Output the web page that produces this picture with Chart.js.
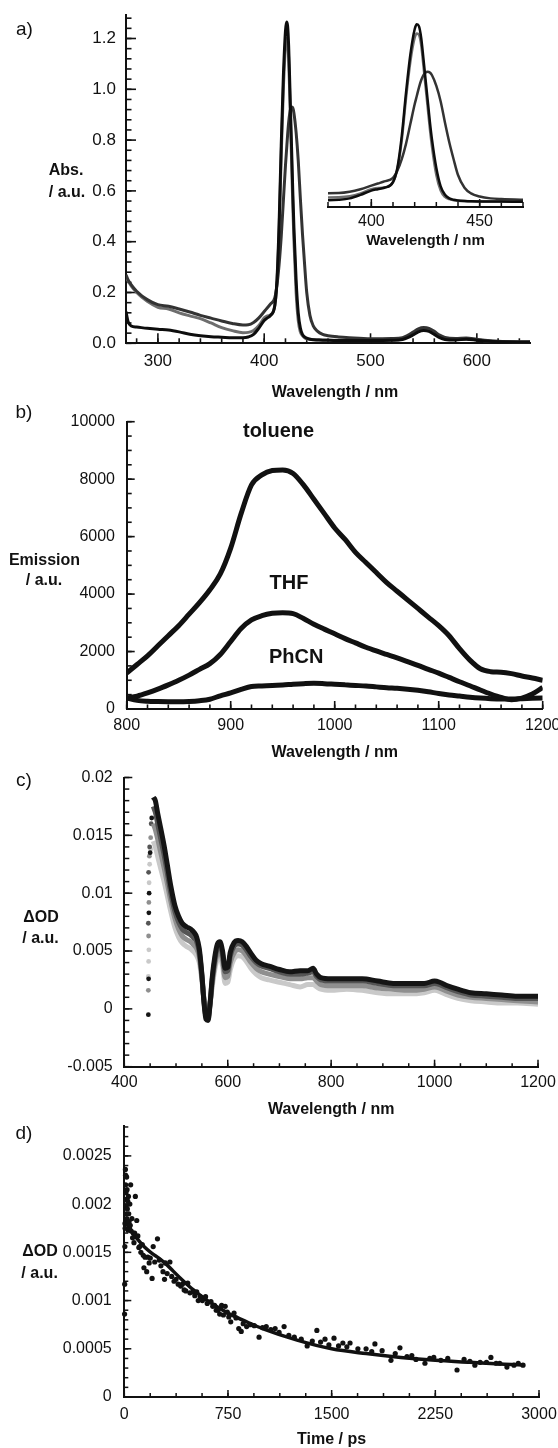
<!DOCTYPE html>
<html><head><meta charset="utf-8">
<script src="https://cdn.jsdelivr.net/npm/chart.js@4.4.1/dist/chart.umd.min.js"></script>
<style>
html,body{margin:0;padding:0;background:#fff;}
body{width:558px;height:1448px;position:relative;overflow:hidden;}
canvas{position:absolute;left:0;}
</style></head><body>
<canvas id="ca" width="558" height="410" style="top:0px"></canvas>
<canvas id="ci" width="558" height="250" style="top:0px"></canvas>
<canvas id="cb" width="558" height="375" style="top:395px"></canvas>
<canvas id="cc" width="558" height="350" style="top:770px"></canvas>
<canvas id="cd" width="558" height="332" style="top:1116px"></canvas>
<script>
// ---------------- Panel a: absorption (main + inset) ----------------
const aWl = [270,272,275,280,290,300,310,320,330,340,350,360,370,380,385,390,395,400,403,406,410,412,414,416,418,420,421,422,423,424,425,426,427,428,430,432,434,436,438,440,443,446,450,455,460,470,480,500,520,530,535,540,545,550,555,560,565,570,580,590,600,610,620,650];
const aBlack = [0.125,0.085,0.068,0.064,0.059, 0.055,0.052,0.045,0.036,0.030, 0.026,0.024,0.022,0.022,0.025, 0.035,0.060,0.090,0.100,0.110, 0.15,0.25,0.47,0.78,1.05, 1.23,1.265,1.25,1.17,1.03, 0.88,0.73,0.58,0.45,0.25, 0.12,0.06,0.035,0.025,0.020, 0.016,0.014,0.013,0.012,0.012, 0.011,0.011,0.011,0.012,0.015, 0.022,0.033,0.045,0.050,0.047, 0.035,0.022,0.015,0.013,0.016, 0.012,0.008,0.006,0.004];
const aGrey = [0.26,0.245,0.225,0.20,0.165, 0.142,0.135,0.120,0.108,0.097, 0.080,0.062,0.050,0.042,0.043, 0.050,0.070,0.100,0.108,0.112, 0.15,0.24,0.44,0.74,1.00, 1.17,1.20,1.19,1.12,0.98, 0.83,0.68,0.53,0.40,0.20, 0.09,0.045,0.030,0.022,0.018, 0.016,0.015,0.014,0.013,0.013, 0.012,0.012,0.012,0.013,0.017, 0.025,0.037,0.050,0.055,0.052, 0.040,0.026,0.018,0.015,0.017, 0.013,0.009,0.007,0.005];
const aDark = [0.27,0.25,0.23,0.205,0.172, 0.152,0.146,0.135,0.123,0.110, 0.099,0.088,0.078,0.072,0.073, 0.082,0.100,0.125,0.140,0.155, 0.18,0.23,0.31,0.42,0.56, 0.70,0.76,0.82,0.87,0.905, 0.925,0.93,0.925,0.905,0.83, 0.72,0.57,0.43,0.31,0.20, 0.11,0.07,0.048,0.035,0.030, 0.025,0.022,0.018,0.019,0.022, 0.031,0.044,0.057,0.062,0.059, 0.047,0.032,0.023,0.019,0.021, 0.016,0.011,0.008,0.006];
const aXTicks = [300,400,500,600];
const aXLabels = ['300','400','500','600'];
const aYTicks = [0,0.2,0.4,0.6,0.8,1.0,1.2];
const aYLabels = ['0.0','0.2','0.4','0.6','0.8','1.0','1.2'];
const insetXTicks = [400,450];
const insetXLabels = ['400','450'];

// ---------------- Panel b: emission ----------------
const bWl = [800,810,820,830,840,850,860,870,880,890,900,910,920,930,940,950,960,970,980,990,1000,1010,1020,1030,1040,1050,1060,1070,1080,1090,1100,1110,1120,1130,1140,1150,1160,1170,1180,1190,1200];
const bToluene = [1250,1550,1850,2200,2550,2900,3300,3700,4150,4700,5600,6800,7800,8150,8300,8320,8200,7800,7300,6800,6300,5900,5450,5100,4750,4400,4100,3800,3500,3200,2900,2550,2100,1700,1400,1300,1280,1230,1150,1080,1000];
const bTHF = [380,450,560,690,840,1000,1180,1380,1580,1900,2350,2800,3100,3250,3330,3350,3320,3150,2950,2780,2620,2450,2300,2150,2020,1900,1780,1650,1520,1380,1250,1100,950,810,660,520,400,320,380,520,750];
const bPhCN = [380,300,270,260,255,255,265,290,340,460,560,680,780,800,820,835,860,880,893,880,860,840,820,800,770,740,720,690,650,600,540,490,450,410,380,360,350,350,360,370,380];
const bNames = ['toluene','THF','PhCN'];
const bXTicks = [800,900,1000,1100,1200];
const bXLabels = ['800','900','1000','1100','1200'];
const bYTicks = [0,2000,4000,6000,8000,10000];
const bYLabels = ['0','2000','4000','6000','8000','10000'];

// ---------------- Panel c: transient absorption spectra ----------------
const cWl = [456,460,465,470,477,483,490,498,505,512,520,528,535,540,545,550,554,558,562,566,570,575,580,585,590,595,600,605,612,620,628,636,645,655,665,680,700,720,740,755,765,772,780,800,830,860,890,920,950,980,1000,1010,1025,1045,1070,1100,1130,1160,1200];
const c1 = [0.0183,0.0180,0.0168,0.0157,0.0141, 0.0125,0.0106,0.0089,0.0080,0.0074, 0.0071,0.0069,0.0066,0.0062,0.0052, 0.0030,0.0006,-0.0009,-0.0010,0.0005, 0.0027,0.0045,0.0056,0.0058,0.0050, 0.0035,0.0036,0.0049,0.0057,0.0059, 0.0058,0.0054,0.0048,0.0042,0.0039, 0.0037,0.0034,0.0032,0.0033,0.0033, 0.0035,0.0030,0.0027,0.0026,0.0026, 0.0026,0.0024,0.0022,0.0022,0.0022, 0.0024,0.0023,0.0020,0.0017,0.0014, 0.0013,0.0012,0.0011,0.0011];
const c2 = [0.0175,0.0170,0.0159,0.0148,0.0133, 0.0118,0.0100,0.0084,0.0075,0.0069, 0.0066,0.0064,0.0061,0.0058,0.0049, 0.0029,0.0007,-0.0007,-0.0008,0.0005, 0.0025,0.0042,0.0053,0.0055,0.0047, 0.0032,0.0033,0.0046,0.0054,0.0056, 0.0055,0.0051,0.0045,0.0040,0.0037, 0.0035,0.0032,0.0030,0.0030,0.0031, 0.0032,0.0028,0.0025,0.0024,0.0024, 0.0024,0.0022,0.0020,0.0020,0.0020, 0.0022,0.0021,0.0018,0.0015,0.0012, 0.0011,0.0010,0.0009,0.0009];
const c3 = [0.0160,0.0155,0.0146,0.0136,0.0122, 0.0109,0.0093,0.0078,0.0069,0.0063, 0.0060,0.0058,0.0055,0.0052,0.0045, 0.0027,0.0008,-0.0004,-0.0005,0.0005, 0.0022,0.0038,0.0048,0.0050,0.0042, 0.0027,0.0028,0.0040,0.0048,0.0051, 0.0050,0.0046,0.0040,0.0035,0.0032, 0.0030,0.0028,0.0026,0.0026,0.0027, 0.0027,0.0024,0.0021,0.0020,0.0020, 0.0020,0.0018,0.0017,0.0016,0.0017, 0.0019,0.0018,0.0015,0.0012,0.0010, 0.0009,0.0008,0.0007,0.0006];
const c4 = [0.0145,0.0140,0.0131,0.0122,0.0110, 0.0098,0.0084,0.0070,0.0062,0.0057, 0.0054,0.0052,0.0049,0.0046,0.0040, 0.0025,0.0009,-0.0001,-0.0002,0.0005, 0.0019,0.0034,0.0043,0.0045,0.0037, 0.0022,0.0023,0.0034,0.0043,0.0046, 0.0045,0.0041,0.0035,0.0030,0.0027, 0.0025,0.0023,0.0021,0.0019,0.0021, 0.0021,0.0019,0.0017,0.0016,0.0017, 0.0016,0.0014,0.0013,0.0013,0.0014, 0.0016,0.0015,0.0012,0.0009,0.0007, 0.0006,0.0005,0.0005,0.0004];
const cEdge1 = [[446.5,-0.0005],[447,0.0026],[447.5,0.0083],[448,0.0100],[450,0.0135],[453,0.0165]];
const cEdge2 = [[446.5,0.0074],[447,0.0118],[449,0.0140],[452,0.0160]];
const cEdge3 = [[446.5,0.0016],[447,0.0063],[447.5,0.0092],[448.5,0.0132],[451,0.0148]];
const cEdge4 = [[446.5,0.0028],[447,0.0041],[447.5,0.0051],[448,0.0109],[449,0.0125],[451,0.0138]];
const cXTicks = [400,600,800,1000,1200];
const cXLabels = ['400','600','800','1000','1200'];
const cYTicks = [-0.005,0,0.005,0.01,0.015,0.02];
const cYLabels = ['-0.005','0','0.005','0.01','0.015','0.02'];

// ---------------- Panel d: kinetic trace ----------------
const dPoints = [[2,0.00086],[3,0.00117],[4,0.00156],[5,0.0018],[6,0.00175],[8,0.00236],[9,0.0023],[10,0.0022],[12,0.00212],[13,0.00205],[14,0.00198],[15,0.0019],[17,0.00228],[18,0.00185],[20,0.00215],[22,0.00195],[24,0.0018],[25,0.00203],[27,0.00173],[30,0.00208],[32,0.0019],[35,0.00182],[38,0.00175],[40,0.002],[43,0.00178],[46,0.0022],[50,0.00172],[55,0.00185],[60,0.00165],[65,0.0017],[70,0.0016],[75,0.0017],[80,0.00208],[90,0.00183],[98,0.00167],[105,0.00155],[111,0.00156],[120,0.0015],[130,0.00158],[137,0.00147],[142,0.00134],[150,0.00145],[162,0.0013],[170,0.00145],[180,0.00139],[188,0.00144],[201,0.00123],[209,0.00156],[220,0.0014],[240,0.00164],[253,0.00142],[265,0.00136],[280,0.0013],[291,0.00122],[297,0.00139],[310,0.00128],[330,0.0014],[343,0.00125],[360,0.0012],[374,0.00122],[390,0.00117],[408,0.00115],[420,0.00117],[433,0.00111],[445,0.0011],[459,0.00118],[475,0.00108],[498,0.00109],[510,0.00105],[524,0.00109],[535,0.001],[549,0.00104],[565,0.001],[588,0.00104],[600,0.00097],[627,0.00099],[640,0.00094],[653,0.00095],[665,0.0009],[678,0.0009],[690,0.00086],[704,0.00095],[717,0.00085],[730,0.00094],[745,0.00088],[756,0.00083],[770,0.00078],[794,0.00087],[808,0.00082],[828,0.00071],[846,0.00068],[860,0.00076],[885,0.00073],[911,0.00075],[940,0.00074],[975,0.00062],[1000,0.00072],[1027,0.00073],[1060,0.0007],[1091,0.00071],[1120,0.00067],[1156,0.00073],[1190,0.00064],[1230,0.00062],[1280,0.0006],[1323,0.00053],[1360,0.00058],[1393,0.00069],[1420,0.00057],[1452,0.0006],[1480,0.00054],[1517,0.00061],[1550,0.00053],[1581,0.00056],[1610,0.00052],[1633,0.00056],[1690,0.0005],[1749,0.0005],[1790,0.00047],[1813,0.00055],[1865,0.00048],[1929,0.00038],[1960,0.00045],[1994,0.00051],[2045,0.00042],[2080,0.00043],[2110,0.00039],[2175,0.00035],[2210,0.0004],[2239,0.00041],[2290,0.00038],[2340,0.0004],[2407,0.00028],[2458,0.00039],[2500,0.00037],[2536,0.00033],[2574,0.00036],[2620,0.00036],[2652,0.00041],[2690,0.00035],[2716,0.00035],[2768,0.00031],[2819,0.00033],[2850,0.00035],[2884,0.00033]];
const dFitT = [0,50,100,150,200,250,300,400,500,600,750,900,1000,1250,1500,1750,2000,2250,2500,2750,2900];
const dFitV = [0.00185,0.00172,0.00163,0.00155,0.00149,0.00144,0.00138,0.00124,0.00111,0.00100,0.00087,0.00077,0.00071,0.00059,0.00050,0.00045,0.00041,0.00038,0.00036,0.00034,0.00033];
const dXTicks = [0,750,1500,2250,3000];
const dXLabels = ['0','750','1500','2250','3000'];
const dYTicks = [0,0.0005,0.001,0.0015,0.002,0.0025];
const dYLabels = ['0','0.0005','0.001','0.0015','0.002','0.0025'];

// ---------------- helpers ----------------
const FF = "'Liberation Sans', Arial, Helvetica, sans-serif";
Chart.defaults.font.family = FF;
Chart.defaults.color = '#111';

function tickPlugin(cfg) {
  return {
    id: 'inTicks',
    beforeDatasetsDraw(chart) {
      const ctx = chart.ctx, a = chart.chartArea;
      ctx.save();
      ctx.strokeStyle = '#111';
      ctx.lineWidth = cfg.width;
      cfg.axes.forEach(ax => {
        const sc = chart.scales[ax.id];
        const mark = (v, len) => {
          const p = sc.getPixelForValue(v);
          ctx.beginPath();
          if (sc.isHorizontal()) { ctx.moveTo(p, a.bottom); ctx.lineTo(p, a.bottom - len); }
          else { ctx.moveTo(a.left, p); ctx.lineTo(a.left + len, p); }
          ctx.stroke();
        };
        const n = Math.round((ax.minorTo - ax.minorFrom) / ax.minorStep);
        for (let i = 0; i <= n; i++) mark(ax.minorFrom + i * ax.minorStep, ax.minorLen);
        ax.major.forEach(v => mark(v, ax.majorLen));
      });
      ctx.restore();
    }
  };
}
function textPlugin(items) {
  return {
    id: 'texts',
    afterDraw(chart) {
      const ctx = chart.ctx;
      ctx.save();
      items.forEach(it => {
        ctx.font = it.font;
        ctx.fillStyle = '#111';
        ctx.textAlign = 'center';
        ctx.textBaseline = 'middle';
        let x = it.x, y = it.y;
        if (it.xv !== undefined) { x = chart.scales.x.getPixelForValue(it.xv); y = chart.scales.y.getPixelForValue(it.yv); }
        ctx.fillText(it.t, x, y);
      });
      ctx.restore();
    }
  };
}
function lin(o) {
  return {
    type: 'linear', min: o.min, max: o.max, bounds: 'data', display: o.display !== false,
    afterBuildTicks: s => { s.ticks = o.ticks.map(v => ({value: v})); },
    afterFit: s => { if (s.isHorizontal()) s.height = o.size; else s.width = o.size; s.paddingLeft = 0; s.paddingRight = 0; s.paddingTop = 0; s.paddingBottom = 0; },
    grid: {display: false, drawTicks: false, drawOnChartArea: false},
    border: {display: true, color: '#111', width: o.bw || 2},
    ticks: {autoSkip: false, maxRotation: 0, minRotation: 0, padding: o.pad, color: '#111', font: {size: o.fs, family: FF}, callback: (v, i) => o.labels ? o.labels[i] : ''},
    title: o.title ? {display: true, text: o.title, color: '#111', font: {size: o.tfs || 16, weight: 'bold', lineHeight: 1, family: FF}, padding: {top: 0, bottom: o.tpad}} : {display: false}
  };
}
function lineDs(xs, ys, color, w) {
  return {data: xs.map((x, i) => ({x: x, y: ys[i]})), showLine: true, borderColor: color, backgroundColor: color, borderWidth: w, pointRadius: 0, tension: 0.4, cubicInterpolationMode: 'monotone', fill: false};
}
function dotDs(pairs, color, r) {
  return {data: pairs.map(p => ({x: p[0], y: p[1]})), showLine: false, pointRadius: r, pointBackgroundColor: color, pointBorderColor: color, pointBorderWidth: 0, backgroundColor: color, borderColor: color, clip: false};
}
function build(id, datasets, pad, xs, ys, ticks, items) {
  return new Chart(document.getElementById(id), {
    type: 'scatter',
    data: {datasets: datasets},
    options: {
      responsive: false, animation: false, devicePixelRatio: 1, events: [],
      layout: {padding: pad},
      plugins: {legend: {display: false}, tooltip: {enabled: false}},
      scales: {x: lin(xs), y: lin(ys)}
    },
    plugins: [tickPlugin(ticks), textPlugin(items)]
  });
}

// ---------------- Panel a ----------------
build('ca',
  [lineDs(aWl, aBlack, '#0d0d0d', 3), lineDs(aWl, aDark, '#333333', 3), lineDs(aWl, aGrey, '#6e6e6e', 3)],
  {left: 0, right: 28, top: 15, bottom: 0},
  {min: 270, max: 650, ticks: aXTicks, labels: aXLabels, size: 66.7, pad: 8.2, fs: 17},
  {min: 0, max: 1.2925, ticks: aYTicks, labels: aYLabels, size: 126, pad: 10, fs: 17},
  {width: 1.6, axes: [
    {id: 'x', major: aXTicks, minorFrom: 280, minorTo: 640, minorStep: 20, majorLen: 10, minorLen: 5},
    {id: 'y', major: aYTicks, minorFrom: 0, minorTo: 1.28, minorStep: 0.04, majorLen: 10, minorLen: 5.5}]},
  [{t: 'a)', x: 24.5, y: 29.5, font: '19px ' + FF},
   {t: 'Abs.', x: 66, y: 171, font: 'bold 16px ' + FF},
   {t: '/ a.u.', x: 67, y: 193, font: 'bold 16px ' + FF},
   {t: 'Wavelength / nm', x: 335, y: 393, font: 'bold 16px ' + FF}]
);
// inset
build('ci',
  [lineDs(aWl, aBlack, '#0d0d0d', 2.5), lineDs(aWl, aDark, '#333333', 2.5), lineDs(aWl, aGrey, '#6e6e6e', 2.5)],
  {left: 328, right: 35, top: 15, bottom: 0},
  {min: 380, max: 470, ticks: insetXTicks, labels: insetXLabels, size: 43, pad: 5.1, fs: 16, title: 'Wavelength / nm', tfs: 15, tpad: 2},
  {min: -0.026, max: 1.331, ticks: [0], display: false, size: 0, pad: 0, fs: 16},
  {width: 1.5, axes: [{id: 'x', major: insetXTicks, minorFrom: 380, minorTo: 470, minorStep: 10, majorLen: 8, minorLen: 5}]},
  []
);

// ---------------- Panel b ----------------
build('cb',
  [lineDs(bWl, bToluene, '#111', 5), lineDs(bWl, bTHF, '#111', 5), lineDs(bWl, bPhCN, '#111', 5)],
  {left: 0, right: 15.3, top: 26.7, bottom: 0},
  {min: 800, max: 1200, ticks: bXTicks, labels: bXLabels, size: 61, pad: 7.4, fs: 16, title: 'Wavelength / nm', tpad: 9},
  {min: 0, max: 10000, ticks: bYTicks, labels: bYLabels, size: 126.7, pad: 11.7, fs: 16},
  {width: 1.6, axes: [
    {id: 'x', major: bXTicks, minorFrom: 800, minorTo: 1200, minorStep: 20, majorLen: 8, minorLen: 4.5},
    {id: 'y', major: bYTicks, minorFrom: 0, minorTo: 10000, minorStep: 500, majorLen: 8, minorLen: 5}]},
  [{t: 'b)', x: 24, y: 18, font: '19px ' + FF},
   {t: 'Emission', x: 44.5, y: 165.7, font: 'bold 16px ' + FF},
   {t: '/ a.u.', x: 44, y: 185.7, font: 'bold 16px ' + FF},
   {t: bNames[0], xv: 946, yv: 9645, font: 'bold 20px ' + FF},
   {t: bNames[1], xv: 956, yv: 4383, font: 'bold 20px ' + FF},
   {t: bNames[2], xv: 963, yv: 1809, font: 'bold 20px ' + FF}]
);

// ---------------- Panel c ----------------
build('cc',
  [lineDs(cWl, c1, '#151515', 5), lineDs(cWl, c2, '#555555', 5), lineDs(cWl, c3, '#8f8f8f', 5), lineDs(cWl, c4, '#c9c9c9', 5),
   dotDs(cEdge1, '#151515', 2.4), dotDs(cEdge2, '#555555', 2.4), dotDs(cEdge3, '#8f8f8f', 2.4), dotDs(cEdge4, '#c9c9c9', 2.4)],
  {left: 0, right: 20, top: 7.5, bottom: 0},
  {min: 400, max: 1200, ticks: cXTicks, labels: cXLabels, size: 53.3, pad: 6.4, fs: 16, title: 'Wavelength / nm', tpad: 2},
  {min: -0.005, max: 0.02, ticks: cYTicks, labels: cYLabels, size: 124.3, pad: 11.6, fs: 16},
  {width: 1.5, axes: [
    {id: 'x', major: cXTicks, minorFrom: 400, minorTo: 1200, minorStep: 50, majorLen: 7, minorLen: 3.5},
    {id: 'y', major: cYTicks, minorFrom: -0.005, minorTo: 0.02, minorStep: 0.001, majorLen: 8, minorLen: 5}]},
  [{t: 'c)', x: 24, y: 11, font: '19px ' + FF},
   {t: '\u0394OD', x: 41, y: 147.3, font: 'bold 16px ' + FF},
   {t: '/ a.u.', x: 40.5, y: 168.3, font: 'bold 16px ' + FF}]
);

// ---------------- Panel d ----------------
build('cd',
  [dotDs(dPoints, '#111', 2.6), lineDs(dFitT, dFitV, '#111', 3.5)],
  {left: 0, right: 19, top: 10, bottom: 0},
  {min: 0, max: 3000, ticks: dXTicks, labels: dXLabels, size: 51, pad: 8.4, fs: 16, title: 'Time / ps', tpad: 0},
  {min: 0, max: 0.00281, ticks: dYTicks, labels: dYLabels, size: 124.3, pad: 12.6, fs: 16},
  {width: 1.5, axes: [
    {id: 'x', major: dXTicks, minorFrom: 0, minorTo: 3000, minorStep: 187.5, majorLen: 7, minorLen: 4},
    {id: 'y', major: dYTicks, minorFrom: 0, minorTo: 0.0028, minorStep: 0.0001, majorLen: 7, minorLen: 4}]},
  [{t: 'd)', x: 24, y: 18, font: '19px ' + FF},
   {t: '\u0394OD', x: 40, y: 135.7, font: 'bold 16px ' + FF},
   {t: '/ a.u.', x: 39.6, y: 157.3, font: 'bold 16px ' + FF}]
);
</script>
</body></html>
